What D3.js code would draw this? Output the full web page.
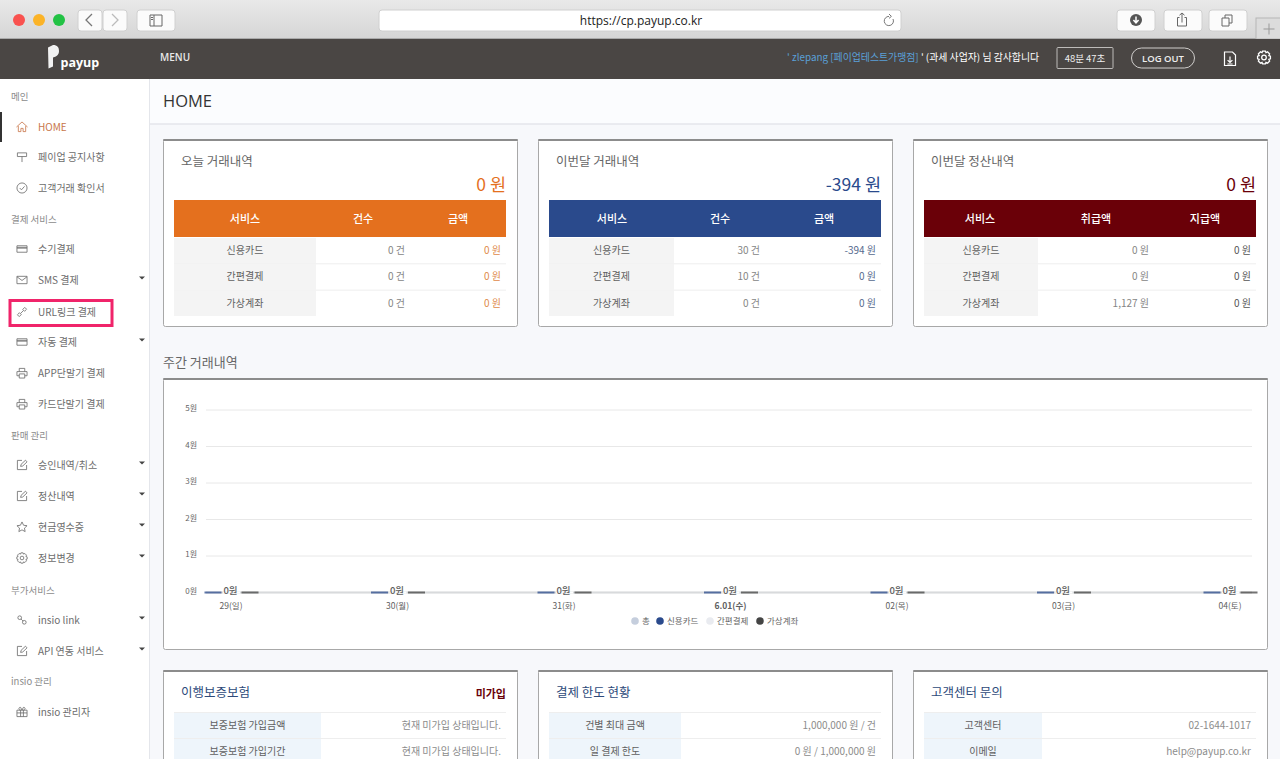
<!DOCTYPE html>
<html>
<head>
<meta charset="utf-8">
<script src="https://cdn.jsdelivr.net/npm/d3@7"></script>
<style>
  html, body { margin: 0; padding: 0; background: #f7f8fb; overflow: hidden; }
  svg { display: block; }
  text { font-family: "Noto Sans CJK KR", "Noto Sans", sans-serif; }
  .latin text, text.latin { font-family: "Open Sans", "Noto Sans CJK KR", sans-serif; }
  .domain { display: none; }
</style>
</head>
<body>
<div id="page"></div>
<script>
// weekly chart data
const days = ["29(일)", "30(월)", "31(화)", "6.01(수)", "02(목)", "03(금)", "04(토)"];
const totalValues = [0, 0, 0, 0, 0, 0, 0];
const cardValues = [0, 0, 0, 0, 0, 0, 0];
const simpleValues = [0, 0, 0, 0, 0, 0, 0];
const virtualValues = [0, 0, 0, 0, 0, 0, 0];
const yTicks = [0, 1, 2, 3, 4, 5];
const legendNames = ["총", "신용카드", "간편결제", "가상계좌"];
const legendColors = ["#c5cedd", "#2a4a8c", "#e9ebf0", "#444444"];

// summary tables
const rowNames = ["신용카드", "간편결제", "가상계좌"];
const todayCols = ["서비스", "건수", "금액"];
const todayCounts = ["0 건", "0 건", "0 건"];
const todayAmounts = ["0 원", "0 원", "0 원"];
const monthCounts = ["30 건", "10 건", "0 건"];
const monthAmounts = ["-394 원", "0 원", "0 원"];
const settleCols = ["서비스", "취급액", "지급액"];
const settleHandled = ["0 원", "0 원", "1,127 원"];
const settlePaid = ["0 원", "0 원", "0 원"];

// sidebar
const navGroups = [["메인", 96], ["결제 서비스", 219], ["판매 관리", 435], ["부가서비스", 590], ["insio 관리", 681]];
const navItems = [
    ["HOME", 127, "home", false],
    ["페이업 공지사항", 157, "sign", false],
    ["고객거래 확인서", 188, "check", false],
    ["수기결제", 249, "card", false],
    ["SMS 결제", 280, "mail", true],
    ["URL링크 결제", 312, "link", false],
    ["자동 결제", 342, "card", true],
    ["APP단말기 결제", 373, "print", false],
    ["카드단말기 결제", 404, "print", false],
    ["승인내역/취소", 465, "edit", true],
    ["정산내역", 496, "edit", true],
    ["현금영수증", 527, "star", true],
    ["정보변경", 558, "gear", true],
    ["insio link", 620, "link2", true],
    ["API 연동 서비스", 651, "edit", true],
    ["insio 관리자", 712, "gift", false]
];

const iconPaths = {
    home: "M-6 0L0-5.5L6 0M-4-1V5H-1.2V1.5H1.2V5H4V-1",
    sign: "M-5-4.5H5V-.5H-5ZM0-.5V5.5",
    check: "M-5.5 0A5.5 5.5 0 1 0 5.5 0A5.5 5.5 0 1 0-5.5 0M-2.5 0L-.6 2L2.8-1.8",
    card: "M-5.5-3.5H5.5V3.5H-5.5ZM-5.5-1.8H5.5M-5.5-.9H5.5",
    mail: "M-5.5-4H5.5V4H-5.5ZM-5.5-3.5L0 .5L5.5-3.5",
    link: "M-5 3L-3 5L-.8 2.8L-2.8 .8ZM5-3L3-5L.8-2.8L2.8-.8ZM-1.5 1.5L1.5-1.5",
    print: "M-3-1.5V-5H3V-1.5M-3 3H-5.5V-1.5H5.5V3H3M-3 1H3V5.5H-3Z",
    edit: "M5 0V5H-5V-5H0M-1.5 1.5L-1 -.7L3.8-5.2L5.5-3.4L.8 1.1Z",
    star: "M0-5.5L1.7-1.9L5.5-1.4L2.7 1.2L3.4 5L0 3.1L-3.4 5L-2.7 1.2L-5.5-1.4L-1.7-1.9Z",
    gear: "M-2 0A2 2 0 1 0 2 0A2 2 0 1 0-2 0M-1.2-5.6H1.2L1.7-4.2L3.1-4.9L4.9-3.1L4.2-1.7L5.6-1.2V1.2L4.2 1.7L4.9 3.1L3.1 4.9L1.7 4.2L1.2 5.6H-1.2L-1.7 4.2L-3.1 4.9L-4.9 3.1L-4.2 1.7L-5.6 1.2V-1.2L-4.2-1.7L-4.9-3.1L-3.1-4.9L-1.7-4.2Z",
    link2: "M-4.5-2.5A2 2 0 1 0-.5-2.5A2 2 0 1 0-4.5-2.5M.5 2.5A2 2 0 1 0 4.5 2.5A2 2 0 1 0 .5 2.5M-1 -1L1 1",
    gift: "M-5.5-2H5.5V5H-5.5ZM-5.5 1H5.5M-1.5-2V5M1.5-2V5M-1.5-2C-4-2-4-5.5-1.5-5L0-2L1.5-5C4-5.5 4-2 1.5-2"
};

const svg = d3.select("#page").append("svg")
    .attr("width", 1280)
    .attr("height", 759)
    .attr("viewBox", "0 0 1280 759");

function rect(parent, x, y, w, h, fill, stroke, rx) {
    return parent.append("rect")
        .attr("x", x).attr("y", y).attr("width", w).attr("height", h)
        .attr("fill", fill || "none")
        .attr("stroke", stroke || "none")
        .attr("rx", rx || 0);
}

function label(parent, str, x, y, size, color, anchor, weight) {
    return parent.append("text")
        .text(str)
        .attr("x", x).attr("y", y)
        .attr("font-size", size)
        .attr("fill", color)
        .attr("text-anchor", anchor || "start")
        .attr("font-weight", weight || 400);
}

function drawPath(parent, d, x, y, color, width) {
    return parent.append("path")
        .attr("d", d)
        .attr("transform", `translate(${x},${y})`)
        .attr("fill", "none")
        .attr("stroke", color)
        .attr("stroke-width", width || 1);
}

function drawChrome() {
    const defs = svg.append("defs");
    const grad = defs.append("linearGradient").attr("id", "chromeBg").attr("x2", 0).attr("y2", 1);
    grad.append("stop").attr("offset", 0).attr("stop-color", "#e9e9e9");
    grad.append("stop").attr("offset", 1).attr("stop-color", "#d5d5d5");

    const top = svg.append("g");
    rect(top, 0, 0, 1280, 39, "url(#chromeBg)");
    top.append("line").attr("x1", 0).attr("x2", 1280).attr("y1", 38.5).attr("y2", 38.5).attr("stroke", "#aaaaaa");

    [[19, "#f9524f"], [39, "#fbb327"], [59, "#22c244"]].forEach(d => {
        top.append("circle").attr("cx", d[0]).attr("cy", 20).attr("r", 6).attr("fill", d[1]);
    });

    [[78, 24], [103, 24], [137, 38], [1117, 38], [1164, 38], [1209, 38]].forEach(d => {
        rect(top, d[0], 10, d[1], 21, "#fbfbfb", "#d0d0d0", 3);
    });
    rect(top, 379, 10, 522, 21, "#ffffff", "#d0d0d0", 3);
    rect(top, 1256, 18, 26, 21, "#dcdcdc", "#b5b5b5");

    drawPath(top, "M3-6L-3 0L3 6", 89, 20, "#777777", 1.3);
    drawPath(top, "M-3-6L3 0L-3 6", 115, 20, "#bbbbbb", 1.3);
    drawPath(top, "M-6-5.5H6V5.5H-6ZM-2-5.5V5.5M-5-3H-3M-5-1H-3", 156, 20.5, "#666666");
    drawPath(top, "M4-2A4.6 4.6 0 1 1 0-4.6M0-7L2.4-4.6L0-2.6", 889, 21, "#777777");
    top.append("circle").attr("cx", 1136).attr("cy", 20).attr("r", 6).attr("fill", "#555555");
    drawPath(top, "M0-3.5V2.5M-2.6 0L0 2.8L2.6 0", 1136, 20, "#ffffff", 1.5);
    drawPath(top, "M-2.5-2.5H-4.5V6H4.5V-2.5H2.5M0 2.5V-7M-2.5-4.8L0-7L2.5-4.8", 1182, 20, "#666666");
    drawPath(top, "M-5-2H2V6H-5ZM-2-2V-5H5V3H2", 1227, 20, "#666666");
    drawPath(top, "M-5.5 0H5.5M0-5.5V5.5", 1269, 29, "#999999");
    label(top, "https://cp.payup.co.kr", 641, 25, 12, "#222222", "middle").attr("class", "latin");

    // dark site header
    const head = svg.append("g");
    rect(head, 0, 39, 1280, 40, "#4a4644");
    head.append("path")
        .attr("d", "M48 47.5L53 45C57.5 45 59 47.5 59 51C59 54 57.5 56.5 53 57.5V66.5L48.5 68.5Z")
        .attr("fill", "#f2f2f2");
    label(head, "payup", 60.5, 66.5, 12.5, "#ffffff", "start", 700).attr("class", "latin");
    label(head, "MENU", 160, 61, 10, "#e8e8e8", "start", 600).attr("class", "latin");

    const greet = label(head, "", 787, 61, 9.9, "#ffffff");
    greet.append("tspan").text("' zlepang [페이업테스트가맹점]").attr("fill", "#5aa0d8");
    greet.append("tspan").text(" ' (과세 사업자) 님 감사합니다");

    rect(head, 1057, 47.5, 56, 21, "none", "#bdbbb9", 1);
    label(head, "48분 47초", 1085, 61.5, 9.5, "#eeeeee", "middle");
    rect(head, 1131.5, 48, 63, 20, "none", "#cfcdcb", 10);
    label(head, "LOG OUT", 1163, 61.5, 9.5, "#eeeeee", "middle", 600).attr("class", "latin");
    drawPath(head, "M-5.5-6.5H2.5L5.5-3.5V7H-5.5ZM0-2V4M-2.4 1.6L0 4L2.4 1.6M-2.6 5.5H2.6", 1230, 58.5, "#ffffff", 1.2);
    drawPath(head, iconPaths.gear, 1264, 57.5, "#ffffff", 1.1).attr("transform", "translate(1264,57.5) scale(1.15)");
}

function drawSidebar() {
    const side = svg.append("g");
    rect(side, 0, 79, 149, 680, "#ffffff");
    side.append("line").attr("x1", 149.5).attr("x2", 149.5).attr("y1", 79).attr("y2", 759).attr("stroke", "#e4e6eb");
    rect(side, 0, 112, 2, 30, "#333333");

    side.selectAll("text.group")
        .data(navGroups)
        .enter()
        .append("text")
        .attr("class", "group")
        .text(d => d[0])
        .attr("x", 11)
        .attr("y", d => d[1] + 4)
        .attr("font-size", 9.5)
        .attr("fill", "#8c8c8c");

    navItems.forEach((d, i) => {
        const color = i === 0 ? "#c8764a" : "#6c6c6c";
        drawPath(side, iconPaths[d[2]], 22, d[1], color, 0.9).attr("transform", `translate(22,${d[1]}) scale(.92)`);
        label(side, d[0], 38, d[1] + 4, 10, color);
        if (d[3]) {
            side.append("path").attr("d", "M-3-1.5H3L0 1.5Z")
                .attr("transform", `translate(142,${d[1] - 2})`)
                .attr("fill", "#444444");
        }
    });

    rect(side, 10, 300.5, 102, 25, "none", "#f0246a").attr("stroke-width", 3);
}

function card(x, y, w, h) {
    const g = svg.append("g");
    rect(g, x + .5, y + .5, w, h, "#ffffff", "#a8a8a8", 2);
    rect(g, x, y, w + 1, 2, "#8c8c8c", null, 1);
    return g;
}

function summaryCard(x, title, total, color, cols, colXs, labelW, colA, colB, rightA, rightB, colorB) {
    const g = card(x, 139, 354, 187);
    const left = x + 11;
    label(g, title, x + 18, 166, 12.5, "#666666");
    label(g, total, x + 343, 190.5, 17.5, color, "end", 400);
    rect(g, left, 200, 332, 37, color);
    cols.forEach((c, i) => label(g, c, colXs[i], 222.5, 11, "#ffffff", "middle", 500));

    const rowY = d3.scaleBand().domain(rowNames).range([237, 316]);
    rowNames.forEach((r, i) => {
        const y = rowY(r);
        rect(g, left, y + 1, labelW, rowY.bandwidth() - 1, "#f4f4f4");
        if (i > 0) {
            g.append("line").attr("x1", left).attr("x2", left + 332).attr("y1", y + .5).attr("y2", y + .5).attr("stroke", "#eeeeee");
        }
        label(g, r, left + labelW / 2, y + 17, 10, "#606060", "middle");
        label(g, colA[i], rightA, y + 17, 10, "#858585", "end");
        label(g, colB[i], rightB, y + 17, 10, colorB, "end");
    });
}

function infoCard(x, title, titleColor, labelW, rows, values) {
    const g = card(x, 670, 354, 110);
    const left = x + 11;
    label(g, title, x + 18, 697, 12.5, titleColor, "start", 400);
    rows.forEach((r, i) => {
        const y = 712 + i * 26;
        rect(g, left, y, labelW, 26, "#eef5fb");
        g.append("line").attr("x1", left).attr("x2", left + 332).attr("y1", y + .5).attr("y2", y + .5).attr("stroke", "#eeeeee");
        label(g, r, left + labelW / 2, y + 17, 10, "#606060", "middle");
        label(g, values[i], x + 338, y + 17, 10, "#8c8c8c", "end");
    });
    return g;
}

function drawWeeklyChart() {
    label(svg, "주간 거래내역", 163, 367, 13, "#666666");
    card(163, 378, 1104, 271);

    const x = d3.scalePoint().domain(days).range([230.5, 1229.5]);
    const y = d3.scaleLinear().domain([0, 5]).range([592, 409.5]);
    const chart = svg.append("g");

    const yAxis = chart.append("g")
        .attr("transform", "translate(206,-1.5)")
        .call(d3.axisLeft(y).tickValues(yTicks).tickFormat(d => d + "원").tickSize(0).tickPadding(9));
    yAxis.selectAll("text").attr("font-size", 8).attr("fill", "#666666").style("font-family", '"Noto Sans CJK KR"');

    chart.append("g")
        .selectAll("line")
        .data(yTicks)
        .enter()
        .append("line")
        .attr("x1", 206)
        .attr("x2", 1252)
        .attr("y1", d => y(d) + .5)
        .attr("y2", d => y(d) + .5)
        .attr("stroke", d => d === 0 ? "#dcdcdc" : "#e8e8e8")
        .attr("stroke-width", d => d === 0 ? 2 : 1);

    const xAxis = chart.append("g")
        .attr("transform", "translate(0,593)")
        .call(d3.axisBottom(x).tickSize(0).tickPadding(10));
    xAxis.selectAll("text")
        .attr("font-size", 8.5)
        .attr("fill", "#606060")
        .attr("font-weight", d => d === "6.01(수)" ? 700 : 400)
        .style("font-family", '"Noto Sans CJK KR"');

    const line = d3.line().x((d, i) => x(days[i])).y(d => y(d) + .5);
    chart.append("path")
        .attr("d", line(totalValues))
        .attr("fill", "none")
        .attr("stroke", legendColors[0])
        .attr("stroke-width", 2)
        .attr("stroke-opacity", .15);

    // the bars are all zero, so only a 2px sliver of each one shows on the baseline
    const barSeries = [cardValues, simpleValues, virtualValues];
    const barX = d3.scaleBand().domain(d3.range(barSeries.length)).range([-26, 28]).paddingInner(.08);
    barSeries.forEach((values, s) => {
        chart.append("g")
            .selectAll("rect")
            .data(values)
            .enter()
            .append("rect")
            .attr("x", (d, i) => x(days[i]) + barX(s))
            .attr("y", d => y(d) - .5)
            .attr("width", barX.bandwidth())
            .attr("height", d => y(0) - y(d) + 2)
            .attr("fill", s === 1 ? "#ffffff" : legendColors[s + 1])
            .attr("fill-opacity", s === 1 ? 1 : .75);
    });

    chart.append("g")
        .selectAll("text")
        .data(totalValues)
        .enter()
        .append("text")
        .text(d => d + "원")
        .attr("x", (d, i) => x(days[i]))
        .attr("y", d => y(d) + 2)
        .attr("text-anchor", "middle")
        .attr("font-size", 9.5)
        .attr("font-weight", 500)
        .attr("fill", "#606060");

    const legend = chart.append("g");
    const legendDots = [635, 660, 710, 760];
    legendNames.forEach((n, i) => {
        legend.append("circle").attr("cx", legendDots[i]).attr("cy", 621).attr("r", 3.8).attr("fill", legendColors[i]);
        label(legend, n, legendDots[i] + 7, 624, 8.5, "#666666");
    });
}

rect(svg, 0, 0, 1280, 759, "#f7f8fb");
rect(svg, 150, 79, 1130, 45, "#fbfcfe");
svg.append("line").attr("x1", 150).attr("x2", 1280).attr("y1", 124).attr("y2", 124).attr("stroke", "#e4e6eb").attr("stroke-width", 1.5);
label(svg, "HOME", 163, 107, 16.5, "#333333").attr("class", "latin");

drawChrome();
drawSidebar();

const orange = "#e4701e", navy = "#2a4a8c", maroon = "#6a0008";
summaryCard(163, "오늘 거래내역", "0 원", orange, todayCols, [245, 363, 458], 142, todayCounts, todayAmounts, 405, 501, "#e08a4a");
summaryCard(538, "이번달 거래내역", "-394 원", navy, todayCols, [612, 720, 824], 125, monthCounts, monthAmounts, 760, 876, "#566a8e");
summaryCard(913, "이번달 정산내역", "0 원", maroon, settleCols, [980, 1096, 1205], 114, settleHandled, settlePaid, 1149, 1251, "#555555");

drawWeeklyChart();

const guardCard = infoCard(163, "이행보증보험", "#2d4a7a", 147, ["보증보험 가입금액", "보증보험 가입기간"], ["현재 미가입 상태입니다.", "현재 미가입 상태입니다."]);
label(guardCard, "미가입", 506, 698, 11, maroon, "end", 700);
infoCard(538, "결제 한도 현황", "#2d4a7a", 132, ["건별 최대 금액", "일 결제 한도"], ["1,000,000 원 / 건", "0 원 / 1,000,000 원"]);
infoCard(913, "고객센터 문의", "#2d4a7a", 118, ["고객센터", "이메일"], ["02-1644-1017", "help@payup.co.kr"]);
</script>
</body>
</html>
